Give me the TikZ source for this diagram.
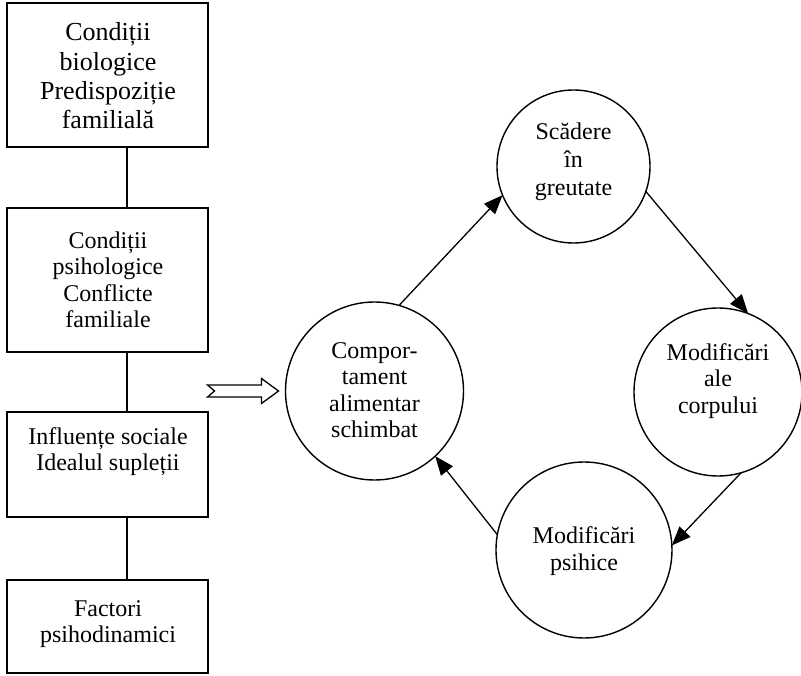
\documentclass[tikz,border=0pt]{standalone}
\usepackage{fontspec}
\setmainfont{Liberation Serif}
\usetikzlibrary{arrows.meta,calc}

\tikzset{
  box/.style={draw, line width=1.5pt, rectangle, anchor=north west,
    minimum width=201pt, inner sep=0pt, outer sep=0pt},
  ring/.style={draw, line width=1.4pt, circle, inner sep=0pt, outer sep=0pt},
  txt/.style={align=center, inner sep=0pt, font=\fontsize{24}{26.5}\selectfont},
  link/.style={line width=1.5pt},
  flow/.style={line width=1.3pt, -{Triangle[length=19pt,width=15pt]}},
}

\begin{document}
\begin{tikzpicture}[x=1pt,y=-1pt]
\useasboundingbox (0,0) rectangle (801,676);

% left column of factor boxes
\node[box, minimum height=144pt] (b1) at (7,3) {};
\node[box, minimum height=144pt] (b2) at (7,208) {};
\node[box, minimum height=105pt] (b3) at (7,412) {};
\node[box, minimum height=93pt]  (b4) at (7,580) {};

\node[txt, font=\fontsize{26}{29.3}\selectfont] (t1) at (108,76)
  {Condiții\\biologice\\Predispoziție\\familială};
\node[txt] (t2) at (108,280) {Condiții\\psihologice\\Conflicte\\familiale};
\node[txt, anchor=north] (t3) at (108,427) {Influențe sociale\\Idealul supleții};
\node[txt, anchor=north] (t4) at (108,600) {Factori\\psihodinamici};

% vertical links between the boxes
\coordinate (cx) at (127,0);
\draw[link] (b1.south -| cx) -- (b2.north -| cx);
\draw[link] (b2.south -| cx) -- (b3.north -| cx);
\draw[link] (b3.south -| cx) -- (b4.north -| cx);

% cycle of circles
\node[ring, minimum size=178pt] (C)  at (374.5,391) {};
\node[ring, minimum size=153pt] (S)  at (573.5,166.5) {};
\node[ring, minimum size=168pt] (MC) at (718,392) {};
\node[ring, minimum size=176pt] (MP) at (584,550) {};

\node[txt] (tC)  at (374.5,390) {Compor-\\tament\\alimentar\\schimbat};
\node[txt, font=\fontsize{24}{28}\selectfont] (tS) at (573.5,162) {Scădere\\în\\greutate};
\node[txt] (tMC) at (718,381) {Modificări\\ale\\corpului};
\node[txt] (tMP) at (584,551) {Modificări\\psihice};

\draw[flow] (C.74)   -- (S.202);
\draw[flow] (S.341)  -- (MC.69);
\draw[flow] (MC.286) -- (MP.3);
\draw[flow] (MP.170) -- (C.313);

% hollow notched arrow into the behaviour circle
\coordinate (ha) at ($(C.west)+(-7,0)$);
\draw[line width=1.3pt, line join=miter]
  (ha) -- ++(-17,-12.5) -- ++(0,6.5) -- ++(-54,0) -- ++(7,6)
  -- ++(-7,6) -- ++(54,0) -- ++(0,6.5) -- cycle;
\end{tikzpicture}
\end{document}
